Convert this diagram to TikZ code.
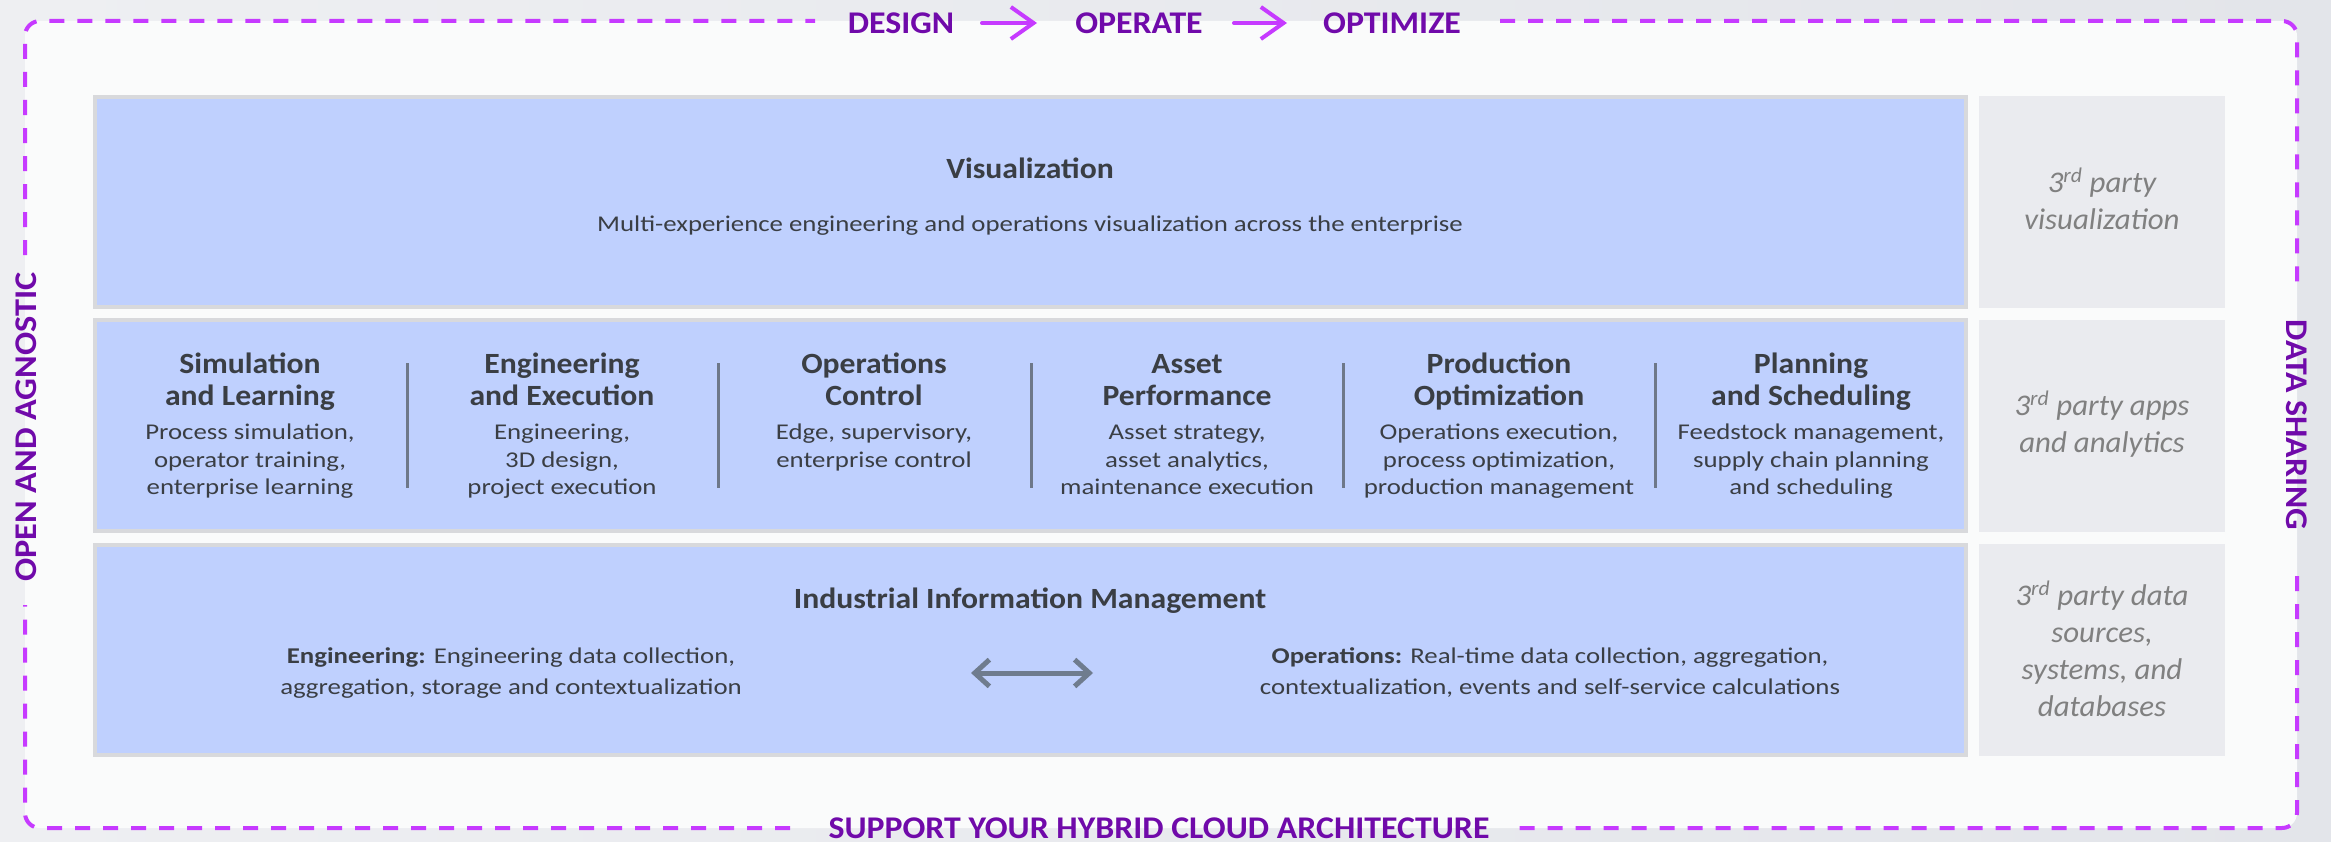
\documentclass[tikz,border=0pt]{standalone}
\usepackage{fontspec}
\setmainfont{Carlito}
\newfontfamily\bodyfont[FakeStretch=1.19]{Carlito}
\newfontfamily\titlefont[FakeStretch=1.08]{Carlito}
\newfontfamily\thirdfont[FakeStretch=1.03]{Carlito}
\newfontfamily\labelfont[FakeStretch=1.07]{Carlito}
\newfontfamily\openfont[FakeStretch=1.085]{Carlito}
\usetikzlibrary{arrows.meta}
\definecolor{bluefill}{RGB}{191,208,254}
\definecolor{boxedge}{RGB}{216,217,220}
\definecolor{thirdfill}{RGB}{234,235,239}
\definecolor{thirdtext}{RGB}{128,128,128}
\definecolor{darktext}{RGB}{58,62,68}
\definecolor{sepline}{RGB}{110,120,137}
\definecolor{dashviolet}{RGB}{198,58,255}
\definecolor{labelpurple}{RGB}{112,10,170}
\definecolor{innerbg}{RGB}{250,251,251}
\definecolor{outerL}{RGB}{238,239,242}
\definecolor{outerR}{RGB}{227,229,234}
\definecolor{arrowgray}{RGB}{111,124,142}
\begin{document}
\begin{tikzpicture}[x=0.75pt,y=-0.75pt,
  frameline/.style={draw=dashviolet, line width=3pt, dash pattern=on 11.25pt off 9.75pt},
  bluebox/.style={draw=boxedge, line width=3pt, fill=bluefill},
  thirdbox/.style={fill=thirdfill},
  titletext/.style={font=\titlefont\bfseries\fontsize{22}{24}\selectfont, text=darktext, align=center, inner sep=0pt},
  bodytext/.style={font=\bodyfont\fontsize{16.9}{20.6}\selectfont, text=darktext, align=center, inner sep=0pt},
  iimtext/.style={font=\bodyfont\fontsize{16.9}{23.2}\selectfont, text=darktext, align=center, inner sep=0pt},
  thirdtxt/.style={font=\thirdfont\itshape\fontsize{22.5}{27.75}\selectfont, text=thirdtext, align=center, inner sep=0pt},
  framelabel/.style={font=\labelfont\bfseries\fontsize{23.7}{28}\selectfont, text=labelpurple, inner sep=0pt},
  sep/.style={draw=sepline, line width=2.25pt},
  flowarrow/.style={draw=dashviolet, line width=3pt, line cap=round, arrows={-Straight Barb[length=17pt,width=24pt]}},
  dblarrow/.style={draw=arrowgray, line width=3.75pt, arrows={Straight Barb[length=11pt,width=20pt]-Straight Barb[length=11pt,width=20pt]}}
]
\useasboundingbox (0,0) rectangle (2331,842);
\shade[left color=outerL, right color=outerR] (0,0) rectangle (2331,842);
\fill[innerbg, rounded corners=11.25pt] (25,21) rectangle (2297,828);

% dashed frame
\draw[frameline, rounded corners=11.25pt] (25,255) -- (25,21) -- (815,21);
\draw[frameline, rounded corners=11.25pt] (1500,21) -- (2297,21) -- (2297,282);
\draw[frameline, rounded corners=11.25pt] (2297,576) -- (2297,828) -- (1510,828);
\draw[frameline, rounded corners=11.25pt] (790,828) -- (25,828) -- (25,605);

% frame labels
\node[framelabel] (design) at (901,23) {DESIGN};
\node[framelabel] (operate) at (1139,23) {OPERATE};
\node[framelabel] (optimize) at (1392,23) {OPTIMIZE};
\coordinate (a1s) at (982,23);
\coordinate (a1e) at (1037,23);
\coordinate (a2s) at (1234,23);
\coordinate (a2e) at (1287,23);
\draw[flowarrow] (a1s) -- (a1e);
\draw[flowarrow] (a2s) -- (a2e);
\node[framelabel] (support) at (1159,828) {SUPPORT YOUR HYBRID CLOUD ARCHITECTURE};
\node[framelabel, font=\openfont\bfseries\fontsize{23.7}{28}\selectfont, rotate=90] (openlbl) at (26,427) {OPEN AND AGNOSTIC};
\node[framelabel, rotate=-90] (sharelbl) at (2297,425) {DATA SHARING};

% blue boxes
\draw[bluebox] (95,97) rectangle (1966,307);
\draw[bluebox] (95,320) rectangle (1966,531);
\draw[bluebox] (95,545) rectangle (1966,755);

% third party boxes
\fill[thirdbox] (1979,96) rectangle (2225,308);
\fill[thirdbox] (1979,320) rectangle (2225,532);
\fill[thirdbox] (1979,544) rectangle (2225,756);
\node[thirdtxt] (tp1) at (2102,199) {3\textsuperscript{rd} party\\visualization};
\node[thirdtxt] (tp2) at (2102,424) {3\textsuperscript{rd} party apps\\and analytics};
\node[thirdtxt] (tp3) at (2102,649) {3\textsuperscript{rd} party data\\sources,\\systems, and\\databases};

% visualization
\node[titletext, anchor=base] (visT) at (1030,178.5) {Visualization};
\node[bodytext, anchor=base] (visB) at (1030,231.5) {Multi-experience engineering and operations visualization across the enterprise};

% middle row (anchor=base is the last line's baseline)
\node[titletext, anchor=base] (simT) at (250,405.5) {Simulation\\and Learning};
\node[bodytext, anchor=base] (simB) at (250,494.5) {Process simulation,\\operator training,\\enterprise learning};
\node[titletext, anchor=base] (engT) at (562,405.5) {Engineering\\and Execution};
\node[bodytext, anchor=base] (engB) at (562,494.5) {Engineering,\\3D design,\\project execution};
\node[titletext, anchor=base] (opcT) at (874,405.5) {Operations\\Control};
\node[bodytext, anchor=base] (opcB) at (874,467) {Edge, supervisory,\\enterprise control};
\node[titletext, anchor=base] (apmT) at (1187,405.5) {Asset\\Performance};
\node[bodytext, anchor=base] (apmB) at (1187,494.5) {Asset strategy,\\asset analytics,\\maintenance execution};
\node[titletext, anchor=base] (proT) at (1499,405.5) {Production\\Optimization};
\node[bodytext, anchor=base] (proB) at (1499,494.5) {Operations execution,\\process optimization,\\production management};
\node[titletext, anchor=base] (plnT) at (1811,405.5) {Planning\\and Scheduling};
\node[bodytext, anchor=base] (plnB) at (1811,494.5) {Feedstock management,\\supply chain planning\\and scheduling};
\foreach \sx in {407,718,1031,1343,1655} \draw[sep] (\sx,363) -- (\sx,488);

% industrial information management
\node[titletext, anchor=base] (iimT) at (1030,608) {Industrial Information Management};
\node[iimtext, anchor=base] (iimE) at (511,694.5) {\textbf{Engineering:} Engineering data collection,\\aggregation, storage and contextualization};
\node[iimtext, anchor=base] (iimO) at (1550,694.5) {\textbf{Operations:} Real-time data collection, aggregation,\\contextualization, events and self-service calculations};
\coordinate (engR) at (971,673);
\coordinate (opsL) at (1093,673);
\draw[dblarrow] (engR) -- (opsL);
\end{tikzpicture}
\end{document}
